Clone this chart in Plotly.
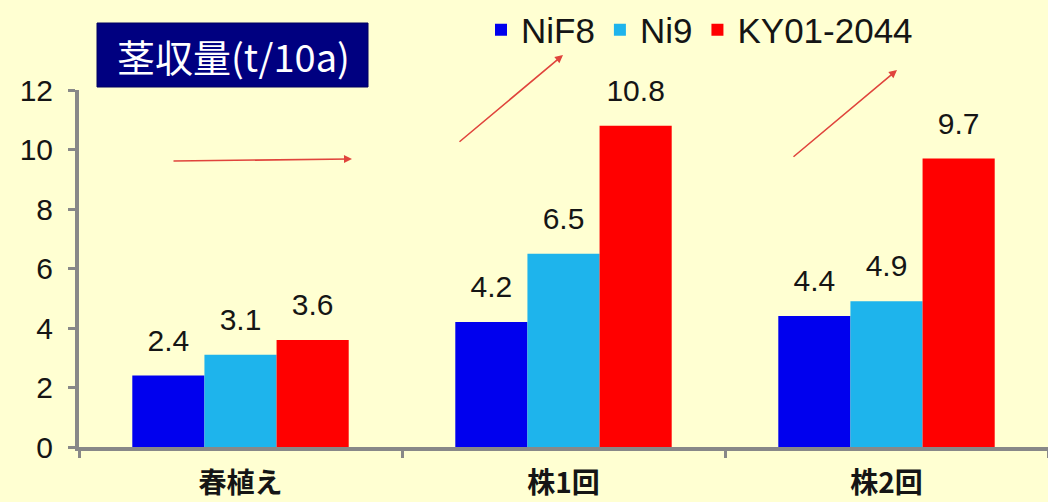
import plotly.graph_objects as go

categories = ["春植え", "株1回", "株2回"]
series_names = ["NiF8", "Ni9", "KY01-2044"]
nif8 = [2.4, 4.2, 4.4]
ni9 = [3.1, 6.5, 4.9]
ky01 = [3.6, 10.8, 9.7]
series_values = [nif8, ni9, ky01]
colors = ["#0000EE", "#1EB4EC", "#FF0000"]
y_ticks = [0, 2, 4, 6, 8, 10, 12]
title_text = "茎収量(t/10a)"

W, H = 1048, 502
L, R, T, B = 79, 0, 90, 55
PW, PH = W - L - R, H - T - B


def px(x):
    return (x - L) / PW


def py(y):
    return (H - B - y) / PH


fig = go.Figure()
for name, vals, col in zip(series_names, series_values, colors):
    fig.add_trace(go.Bar(
        x=categories, y=vals, name=name, marker=dict(color=col, line=dict(width=0)),
        offsetgroup=name,
    ))
for name, vals in zip(series_names, series_values):
    fig.add_trace(go.Scatter(
        x=categories, y=vals, mode="markers+text", text=[f"{v:.1f}" for v in vals],
        textposition="top center", marker=dict(size=26, opacity=0),
        textfont=dict(family="Liberation Sans, Arial", size=30, color="#151515"),
        showlegend=False, hoverinfo="skip", cliponaxis=False, offsetgroup=name,
    ))

arrow_col = "#E0443C"
annotations = [
    dict(x=px(233), y=py(56), xref="paper", yref="paper", text=title_text, showarrow=False,
         font=dict(family="Noto Sans CJK JP", size=38, color="white"), xanchor="center", yanchor="middle"),
    dict(x=px(352), y=py(159), xref="paper", yref="paper", ax=-180, ay=2, text="", showarrow=True,
         arrowhead=2, arrowsize=1, arrowwidth=1.6, arrowcolor=arrow_col),
    dict(x=px(563), y=py(55), xref="paper", yref="paper", ax=-105, ay=88, text="", showarrow=True,
         arrowhead=2, arrowsize=1, arrowwidth=1.6, arrowcolor=arrow_col),
    dict(x=px(897), y=py(70), xref="paper", yref="paper", ax=-105, ay=88, text="", showarrow=True,
         arrowhead=2, arrowsize=1, arrowwidth=1.6, arrowcolor=arrow_col),
]

shapes = [
    dict(type="rect", xref="paper", yref="paper", x0=px(97), x1=px(368), y0=py(87), y1=py(23),
         fillcolor="#000080", line=dict(width=1, color="#000060"), layer="above"),
]

bg = "#FFFFD2"
fig.update_layout(
    width=W, height=H,
    margin=dict(l=L, r=R, t=T, b=B, autoexpand=False),
    paper_bgcolor=bg, plot_bgcolor=bg,
    barmode="group", bargap=0.33, bargroupgap=0,
    scattermode="group", scattergap=0.33,
    showlegend=True,
    legend=dict(orientation="h", x=px(481), y=py(30), xanchor="left", yanchor="middle",
                font=dict(family="Liberation Sans, Arial", size=35, color="#151515"),
                bgcolor="rgba(0,0,0,0)", itemclick=False, tracegroupgap=0),
    annotations=annotations, shapes=shapes,
    xaxis=dict(
        type="category", showline=True, linecolor="#888888", linewidth=4,
        ticks="outside", tickson="boundaries", ticklen=7, tickwidth=3, tickcolor="#888888",
        tickfont=dict(family="Noto Sans CJK JP", size=28, color="#151515", weight="bold"),
        ticklabelstandoff=8, showgrid=False, automargin=False,
    ),
    yaxis=dict(
        range=[0, 12], tickvals=y_ticks, showline=True, linecolor="#888888", linewidth=4,
        ticks="outside", ticklen=7, tickwidth=3, tickcolor="#888888",
        tickfont=dict(family="Liberation Sans, Arial", size=30, color="#151515"),
        ticklabelstandoff=9, showgrid=False, zeroline=False, automargin=False,
    ),
)

fig.write_html("out.html")
